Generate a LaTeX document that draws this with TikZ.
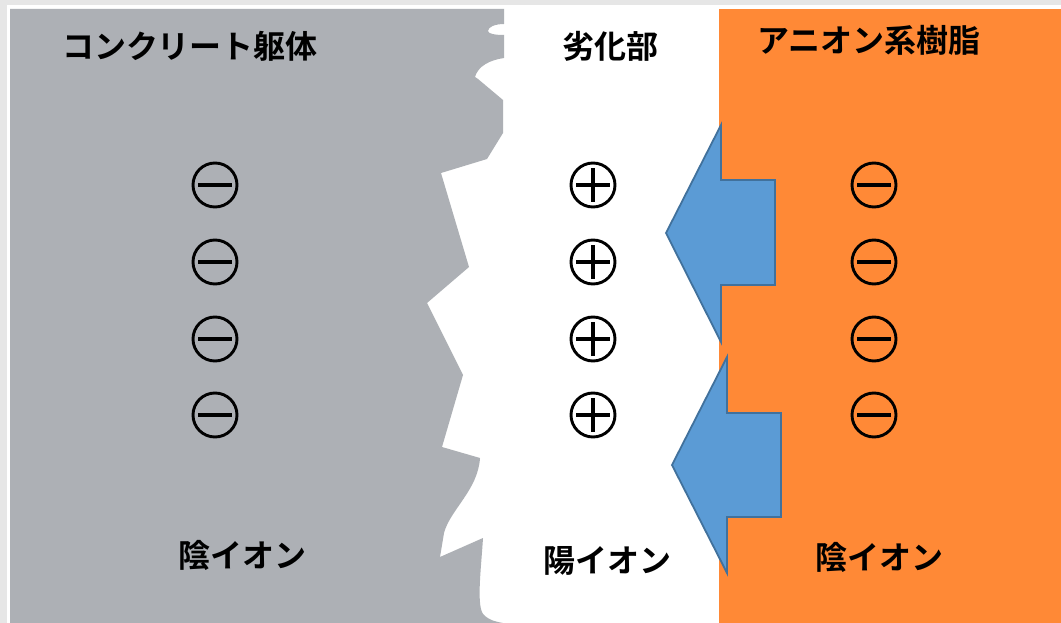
\documentclass[tikz,border=0pt]{standalone}
\usepackage{fontspec}
\newfontfamily\jp[BoldFont={Noto Sans CJK JP Bold}]{Noto Sans CJK JP}
\definecolor{frame}{RGB}{230,230,230}
\definecolor{concrete}{RGB}{173,176,181}
\definecolor{resin}{RGB}{255,137,54}
\definecolor{arrowfill}{RGB}{91,155,213}
\definecolor{arrowline}{RGB}{65,113,156}
\tikzset{
  lbl/.style={font=\jp\bfseries\fontsize{32}{38}\selectfont, text=black, inner sep=0pt},
  ion/.style={circle, draw=black, line width=2.9pt, minimum size=44pt, inner sep=0pt},
  bar/.style={line width=3.9pt, line cap=butt},
  flow/.style={fill=arrowfill, draw=arrowline, line width=1.8pt, line join=miter},
}
\begin{document}
\begin{tikzpicture}[x=1pt,y=-1pt]
\useasboundingbox (0,0) rectangle (1061,623);
\fill[frame] (0,0) rectangle (1061,623);
\fill[white] (7,5) rectangle (1061,623);
% concrete body
\fill[concrete] (10,9) -- (504,9) -- (504,24)
  .. controls (495,24) and (488,27) .. (488,31)
  .. controls (488,34) and (496,35) .. (504,35)
  -- (504,58) .. controls (490,60) and (478,66) .. (475,77)
  -- (478,79) -- (503,100) -- (503,133) -- (487,159) -- (441,173)
  -- (469,267) -- (427,303) -- (463,375) -- (442,447) -- (480,458)
  .. controls (478,490) and (450,510) .. (444,533)
  -- (440,557) -- (483,538)
  .. controls (481,570) and (476,608) .. (484,615)
  .. controls (490,621) and (498,622) .. (503,623)
  -- (10,623) -- cycle;
% resin
\fill[resin] (719,9) rectangle (1061,623);
% arrows
\draw[flow] (666,233) -- (721,125) -- (721,180) -- (775,180) -- (775,285) -- (721,285) -- (721,342) -- cycle;
\draw[flow] (672,465) -- (727,357) -- (727,413) -- (781,413) -- (781,517) -- (727,517) -- (727,573) -- cycle;
% labels
\node[lbl] (t1) at (190,46) {コンクリート躯体};
\node[lbl] (t2) at (610,46) {劣化部};
\node[lbl] (t3) at (869,40) {アニオン系樹脂};
\node[lbl] (b1) at (242,555) {陰イオン};
\node[lbl] (b2) at (607,561) {陽イオン};
\node[lbl] (b3) at (879,557) {陰イオン};
% ions
\foreach \i/\y in {1/185,2/262,3/339,4/415}{
  \node[ion] (cm\i) at (215,\y) {};
  \draw[bar] ([xshift=-17pt]cm\i.center) -- ([xshift=17pt]cm\i.center);
  \node[ion] (dp\i) at (593,\y) {};
  \draw[bar] ([xshift=-17pt]dp\i.center) -- ([xshift=17pt]dp\i.center);
  \draw[bar] ([yshift=-17pt]dp\i.center) -- ([yshift=17pt]dp\i.center);
  \node[ion] (rm\i) at (874,\y) {};
  \draw[bar] ([xshift=-17pt]rm\i.center) -- ([xshift=17pt]rm\i.center);
}
\end{tikzpicture}
\end{document}
